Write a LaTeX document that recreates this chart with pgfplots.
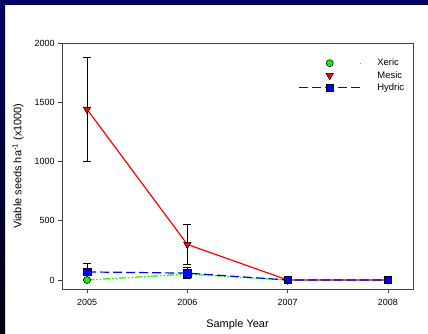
\documentclass[border=0pt]{standalone}
\usepackage{fontspec}
\setmainfont{Liberation Sans}
\usepackage{pgfplots}
\pgfplotsset{compat=1.18}
\definecolor{navyb}{RGB}{0,0,102}
\definecolor{xg}{RGB}{0,255,0}
\definecolor{mr}{RGB}{255,0,0}
\definecolor{hb}{RGB}{0,0,255}
\begin{document}
\begin{tikzpicture}
\fill[white] (0bp,0bp) rectangle (428bp,333bp);
\fill[navyb] (0bp,328bp) rectangle (428bp,333bp);
\shade[top color=navyb, bottom color=black!85!navyb] (0bp,0bp) rectangle (5bp,328bp);
\begin{axis}[
  at={(62bp,44bp)}, anchor=south west,
  scale only axis, width=351bp, height=246bp,
  xmin=2004.75, xmax=2008.25, ymin=-76, ymax=2000,
  xtick={2005,2006,2007,2008}, ytick={0,500,1000,1500,2000},
  minor tick num=0,
  tick align=outside, tick pos=left,
  major tick length=4bp,
  axis line style={black!75, line width=0.9bp},
  tick style={black!75, line width=0.7bp},
  /pgf/number format/assume math mode=true,
  xticklabel style={/pgf/number format/1000 sep={}, font=\fontsize{9}{10}\selectfont, yshift=-3bp},
  yticklabel style={/pgf/number format/1000 sep={}, font=\fontsize{9}{10}\selectfont},
  xlabel={Sample Year},
  ylabel={Viable seeds ha\textsuperscript{-1} (x1000)},
  xlabel style={at={(axis description cs:0.5,-0.1463)}, anchor=center, font=\fontsize{11}{13}\selectfont},
  ylabel style={at={(axis description cs:-0.1254,0.5)}, anchor=center, font=\fontsize{11}{13}\selectfont},
  legend style={draw=none, fill=none, at={(axis description cs:0.665,0.952)}, anchor=north west,
    font=\fontsize{9.5}{10}\selectfont, row sep=0bp},
  legend cell align=left,
]
\addlegendimage{legend image code/.code={%
  \pgfsetstrokecolor{white}\pgfsetfillcolor{white}%
  \draw[draw=xg, line width=1.2bp, dash pattern=on 7bp off 2bp on 1.5bp off 2bp on 1.5bp off 2bp]
    (0bp,0bp) -- (61bp,0bp);
  \pgfsetstrokecolor{white}\pgfsetfillcolor{white}%
  \path[mark=*, mark size=3.5bp, mark options={solid, draw=black, fill=xg, line width=0.6bp},
    mark repeat=2, mark phase=2] plot coordinates {(0bp,0bp)(30.5bp,0bp)(61bp,0bp)};
  \path (76bp,0bp);}}
\addlegendentry{Xeric}
\addlegendimage{legend image code/.code={%
  \pgfsetstrokecolor{white}\pgfsetfillcolor{white}%
  \draw[draw=mr, line width=1.2bp, solid] (0bp,0bp) -- (61bp,0bp);
  \pgfsetstrokecolor{white}\pgfsetfillcolor{white}%
  \path[mark=triangle*, mark size=4.2bp, mark options={solid, rotate=180, draw=black, fill=mr, line width=0.6bp},
    mark repeat=2, mark phase=2] plot coordinates {(0bp,0bp)(30.5bp,0bp)(61bp,0bp)};
  \path (76bp,0bp);}}
\addlegendentry{Mesic}
\addlegendimage{legend image code/.code={%
  \pgfsetstrokecolor{white}\pgfsetfillcolor{white}%
  \draw[draw=hb, line width=1.2bp, dash pattern=on 9bp off 4bp] (0bp,0bp) -- (61bp,0bp);
  \pgfsetstrokecolor{white}\pgfsetfillcolor{white}%
  \path[mark=square*, mark size=3.8bp, mark options={solid, draw=black, fill=hb, line width=0.6bp},
    mark repeat=2, mark phase=2] plot coordinates {(0bp,0bp)(30.5bp,0bp)(61bp,0bp)};
  \path (76bp,0bp);}}
\addlegendentry{Hydric}
\addplot[forget plot, color=xg, line width=1.2bp, dash pattern=on 7bp off 2bp on 1.5bp off 2bp on 1.5bp off 2bp,
  mark=*, mark size=3.5bp, mark options={solid, draw=black, fill=xg, line width=0.6bp},
  error bars/.cd, y dir=both, y explicit,
  error bar style={black, solid, line width=0.8bp},
  error mark options={black, solid, mark size=4bp, line width=0.8bp, rotate=90}]
  coordinates {(2005,0) +- (0,5) (2006,50) +- (0,30) (2007,0) +- (0,5) (2008,0) +- (0,5)};
\addplot[forget plot, color=mr, line width=1.2bp,
  mark=triangle*, mark size=4.2bp, mark options={solid, rotate=180, draw=black, fill=mr, line width=0.6bp},
  error bars/.cd, y dir=both, y explicit,
  error bar style={black, solid, line width=0.8bp},
  error mark options={black, solid, mark size=4bp, line width=0.8bp, rotate=90}]
  coordinates {(2005,1440) +- (0,435) (2006,300) +- (0,170) (2007,0) +- (0,5) (2008,0) +- (0,5)};
\addplot[forget plot, color=hb, line width=1.2bp, dash pattern=on 9bp off 4bp,
  mark=square*, mark size=3.8bp, mark options={solid, draw=black, fill=hb, line width=0.6bp},
  error bars/.cd, y dir=both, y explicit,
  error bar style={black, solid, line width=0.8bp},
  error mark options={black, solid, mark size=4bp, line width=0.8bp, rotate=90}]
  coordinates {(2005,68) +- (0,73) (2006,58) +- (0,45) (2007,0) +- (0,8) (2008,0) +- (0,8)};
\end{axis}
\end{tikzpicture}
\end{document}
